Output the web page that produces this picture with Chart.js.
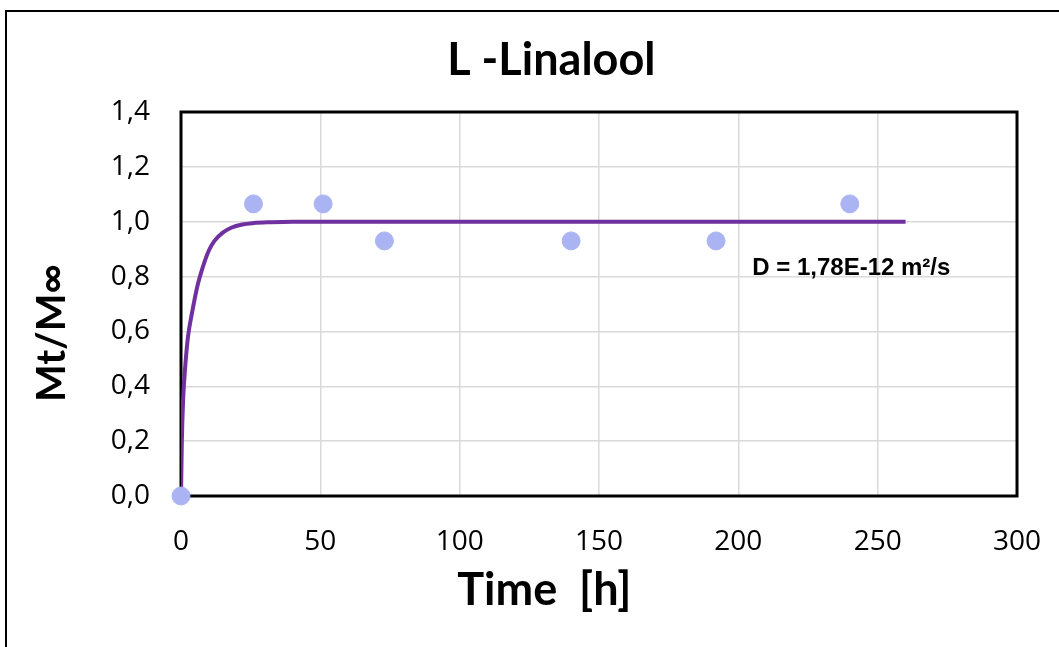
<!DOCTYPE html>
<html>
<head>
<meta charset="utf-8">
<script src="https://cdn.jsdelivr.net/npm/chart.js@4.4.1/dist/chart.umd.min.js"></script>
<style>
  body { margin: 0; background: #fff; }
  #frame { position: absolute; left: 5px; top: 10px; width: 1100px; height: 700px; border: 2px solid #000; }
  #wrap { position: absolute; left: 0; top: 0; width: 1059px; height: 647px; }
</style>
</head>
<body>
<div id="frame"></div>
<div id="wrap"><canvas id="chart"></canvas></div>
<script>
// measured points
const timeH = [0, 26, 51, 73, 140, 192, 240];
const mtMinf = [0, 1.065, 1.065, 0.93, 0.93, 0.93, 1.065];

// model curve
const fitT = [0, 0.3, 0.8, 1.5, 2.5, 4, 6, 8, 10, 12, 15, 18, 22, 26, 32, 40, 60, 100, 150, 200, 260];
const fitY = [0, 0.2, 0.36, 0.47, 0.58, 0.67, 0.77, 0.84, 0.895, 0.93, 0.96, 0.978, 0.99, 0.995, 0.998, 1.0, 1.0, 1.0, 1.0, 1.0, 1.0];

const xTicks = [0, 50, 100, 150, 200, 250, 300];
const yTicks = [0, 0.2, 0.4, 0.6, 0.8, 1.0, 1.2, 1.4];

const label = "D = 1,78E-12 m\u00b2/s";
const labelAt = { x: 205, y: 0.83 };

const plotBorder = {
    id: "plotBorder",
    beforeDatasetsDraw(chart) {
        const { ctx, chartArea: a } = chart;
        ctx.save();
        ctx.strokeStyle = "#000";
        ctx.lineWidth = 3;
        ctx.strokeRect(a.left, a.top, a.right - a.left, a.bottom - a.top);
        ctx.restore();
    },
    afterDraw(chart) {
        const { ctx, scales } = chart;
        ctx.save();
        ctx.fillStyle = "#000";
        ctx.font = "bold 24px 'Liberation Sans', Arial, sans-serif";
        ctx.textAlign = "left";
        ctx.textBaseline = "middle";
        ctx.fillText(label, scales.x.getPixelForValue(labelAt.x), scales.y.getPixelForValue(labelAt.y));
        ctx.restore();
    }
};

new Chart(document.getElementById("chart"), {
    type: "scatter",
    data: {
        datasets: [
            {
                label: "fit",
                data: fitT.map((t, i) => ({ x: t, y: fitY[i] })),
                showLine: true,
                borderColor: "#7030a0",
                borderWidth: 4,
                pointRadius: 0,
                cubicInterpolationMode: "monotone",
                order: 2
            },
            {
                label: "data",
                data: timeH.map((t, i) => ({ x: t, y: mtMinf[i] })),
                backgroundColor: "#aab4f2",
                borderColor: "#aab4f2",
                pointRadius: 9,
                clip: false,
                order: 1
            }
        ]
    },
    options: {
        responsive: true,
        maintainAspectRatio: false,
        animation: false,
        layout: { padding: 0 },
        plugins: {
            legend: { display: false },
            tooltip: { enabled: false },
            title: {
                display: true,
                text: "    L -Linalool",
                color: "#000",
                font: { family: "Lato", size: 45, weight: "bold" },
                padding: { top: 33, bottom: 25 }
            }
        },
        scales: {
            x: {
                type: "linear",
                min: 0,
                max: 300,
                afterBuildTicks: s => { s.ticks = xTicks.map(v => ({ value: v })); },
                afterFit: s => { s.height = 151; s.paddingRight = 42; },
                grid: { color: "#d9d9d9", lineWidth: 1.5, drawTicks: false },
                border: { display: false },
                ticks: { color: "#000", font: { family: "Open Sans", size: 28 }, padding: 29 },
                title: {
                    display: true,
                    text: "Time  [h]          ",
                    color: "#000",
                    font: { family: "Lato", size: 45, weight: "bold" },
                    padding: { top: 2, bottom: 30 }
                }
            },
            y: {
                min: 0,
                max: 1.4,
                afterBuildTicks: s => { s.ticks = yTicks.map(v => ({ value: v })); },
                afterFit: s => { s.width = 181; },
                grid: { color: "#d9d9d9", lineWidth: 1.5, drawTicks: false },
                border: { display: false },
                ticks: {
                    color: "#000",
                    font: { family: "Open Sans", size: 28 },
                    padding: 31,
                    callback: v => v.toFixed(1).replace(".", ",")
                },
                title: {
                    display: true,
                    text: "Mt/M\u221e      ",
                    color: "#000",
                    font: { family: "Lato", size: 40, weight: "bold" },
                    padding: { top: 28, bottom: 0 }
                }
            }
        }
    },
    plugins: [plotBorder]
});
</script>
</body>
</html>
